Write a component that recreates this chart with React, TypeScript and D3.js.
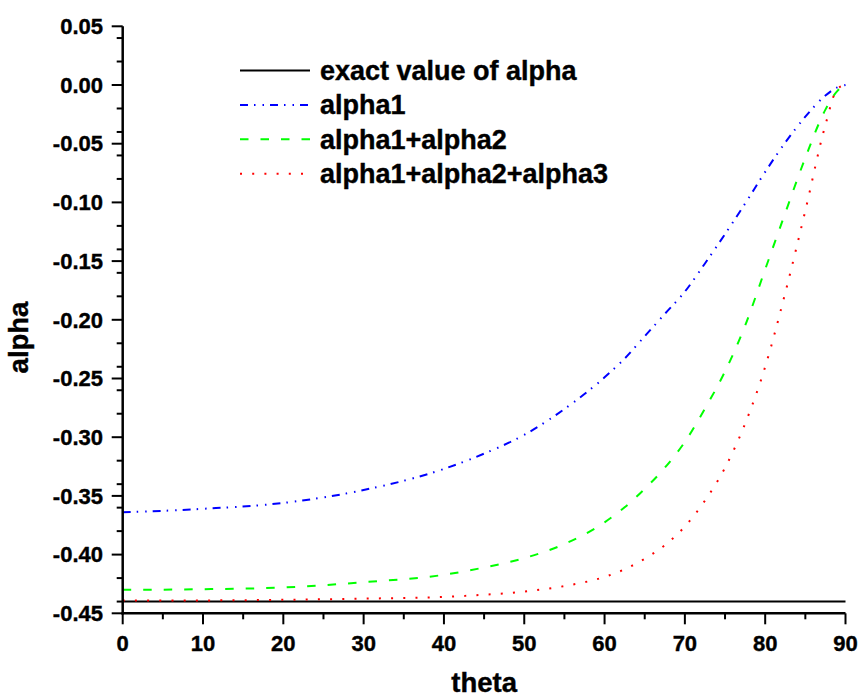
import React from "react";
import * as d3 from "d3";

const theta = [0, 10, 20, 30, 40, 45, 50, 55, 60, 62.5, 65, 67.5, 70, 72.5, 75, 77.5, 80, 82.5, 85, 87.5, 89, 90];
const exactAlpha = theta.map(() => -0.44);
const alpha1 = [-0.364, -0.361, -0.356, -0.345, -0.327, -0.314, -0.298, -0.276, -0.249, -0.233, -0.214, -0.195, -0.176, -0.152, -0.127, -0.101, -0.074, -0.049, -0.027, -0.009, -0.002, 0];
const alpha12 = [-0.430, -0.4295, -0.428, -0.4235, -0.4172, -0.411, -0.403, -0.391, -0.3725, -0.3597, -0.344, -0.326, -0.304, -0.2756, -0.244, -0.205, -0.157, -0.109, -0.062, -0.021, -0.005, 0];
const alpha123 = [-0.439, -0.439, -0.4385, -0.4375, -0.436, -0.4342, -0.4315, -0.4268, -0.419, -0.4125, -0.4035, -0.392, -0.376, -0.354, -0.326, -0.2885, -0.240, -0.177, -0.107, -0.034, -0.003, 0];

const seriesNames = ["exact value of alpha", "alpha1", "alpha1+alpha2", "alpha1+alpha2+alpha3"];
const seriesValues = [exactAlpha, alpha1, alpha12, alpha123];
const seriesColors = ["#000000", "#0000ff", "#00ff00", "#ff0000"];
const seriesDash = ["none", "8,6,1.5,7,1.5,6", "8.5,12", "2,10.2"];

const xDomain = [0, 90];
const yDomain = [-0.45, 0.05];
const xLabel = "theta";
const yLabel = "alpha";

const FONT = "'Liberation Sans', Arial, Helvetica, sans-serif";

export default function App() {
  const W = 864, H = 699;
  const x = d3.scaleLinear().domain(xDomain).range([122.7, 845.5]);
  const y = d3.scaleLinear().domain(yDomain).range([613.3, 26.3]);

  const yMajor = d3.ticks(yDomain[0], yDomain[1], 10);
  const yMinor = d3.ticks(yDomain[0], yDomain[1], 20).filter(v => !yMajor.some(m => Math.abs(m - v) < 1e-9));
  const xMajor = d3.range(0, 91, 10);
  const xMinor = d3.range(5, 90, 10);

  const line = d3.line<number>()
    .x((_, i) => x(theta[i]))
    .y(d => y(d))
    .curve(d3.curveMonotoneX);

  const fmt = (v: number) => (Math.abs(v) < 1e-9 ? 0 : v).toFixed(2);

  const x0 = x(xDomain[0]);
  const y0 = y(yDomain[0]);

  return (
    <svg width={W} height={H} style={{ position: "absolute", left: 0, top: 0, background: "#fff" }} fontFamily={FONT}>
      <rect width={W} height={H} fill="#fff" />
      {seriesValues.map((vals, i) => (
        <path key={i} d={line(vals) || ""} fill="none" stroke={seriesColors[i]} strokeWidth={2}
          strokeDasharray={seriesDash[i] === "none" ? undefined : seriesDash[i]} />
      ))}
      <line x1={x0} x2={x0} y1={y(yDomain[1])} y2={y0 + 1.2} stroke="#000" strokeWidth={2.5} />
      {yMajor.map(v => (
        <g key={"ym" + v}>
          <line x1={x0 - 11} x2={x0} y1={y(v)} y2={y(v)} stroke="#000" strokeWidth={2} />
          <text x={103} y={y(v)} dy="0.35em" textAnchor="end" fontSize={22} fontWeight="bold"
            stroke="#000" strokeWidth={0.4}>{fmt(v)}</text>
        </g>
      ))}
      {yMinor.map(v => (
        <line key={"yn" + v} x1={x0 - 6} x2={x0} y1={y(v)} y2={y(v)} stroke="#000" strokeWidth={2} />
      ))}
      <line x1={x0 - 1.2} x2={x(xDomain[1])} y1={y0} y2={y0} stroke="#000" strokeWidth={2.5} />
      {xMajor.map(v => (
        <g key={"xm" + v}>
          <line x1={x(v)} x2={x(v)} y1={y0} y2={y0 + 11} stroke="#000" strokeWidth={2} />
          <text x={x(v)} y={650.5} textAnchor="middle" fontSize={22} fontWeight="bold"
            stroke="#000" strokeWidth={0.4}>{v}</text>
        </g>
      ))}
      {xMinor.map(v => (
        <line key={"xn" + v} x1={x(v)} x2={x(v)} y1={y0} y2={y0 + 6} stroke="#000" strokeWidth={2} />
      ))}
      <text x={(x(xDomain[0]) + x(xDomain[1])) / 2} y={691.5} textAnchor="middle" fontSize={27.5} fontWeight="bold"
        stroke="#000" strokeWidth={0.4}>{xLabel}</text>
      <text transform={`translate(27.5,337.5) rotate(-90)`} textAnchor="middle" fontSize={27.5} fontWeight="bold"
        stroke="#000" strokeWidth={0.4}>{yLabel}</text>
      {seriesNames.map((name, i) => {
        const base = 80 + i * 34.4;
        return (
          <g key={"lg" + i}>
            <line x1={240} x2={310} y1={base - 9.5} y2={base - 9.5} stroke={seriesColors[i]} strokeWidth={2}
              strokeDasharray={seriesDash[i] === "none" ? undefined : seriesDash[i]} />
            <text x={320} y={base} fontSize={27} fontWeight="bold" stroke="#000" strokeWidth={0.4}>{name}</text>
          </g>
        );
      })}
    </svg>
  );
}
